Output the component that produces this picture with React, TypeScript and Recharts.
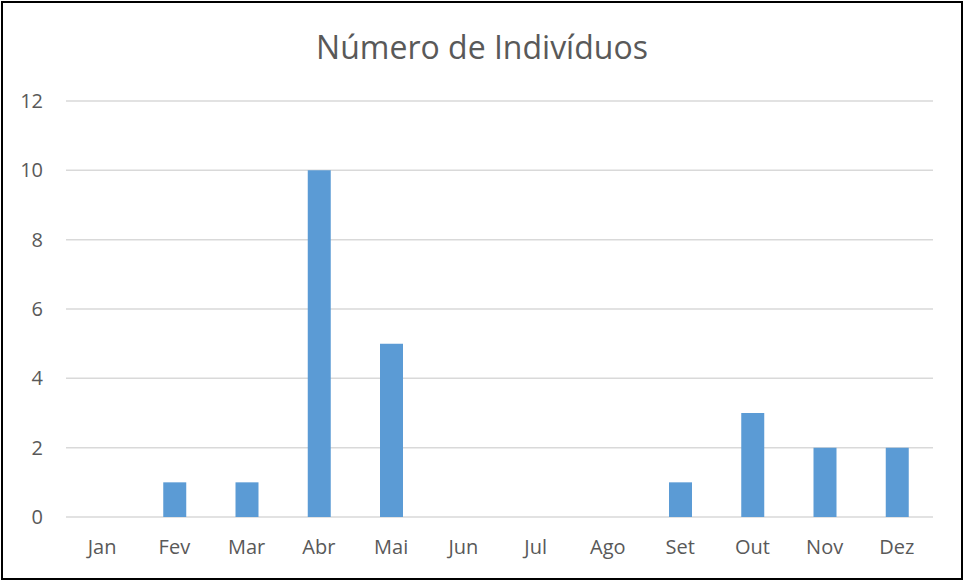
import React from 'react';
import { BarChart, Bar, XAxis, YAxis, CartesianGrid } from 'recharts';

const MONTHS = ['Jan', 'Fev', 'Mar', 'Abr', 'Mai', 'Jun', 'Jul', 'Ago', 'Set', 'Out', 'Nov', 'Dez'];
const INDIVIDUOS = [0, 1, 1, 10, 5, 0, 0, 0, 1, 3, 2, 2];
const Y_TICKS = [0, 2, 4, 6, 8, 10, 12];

const TEXT_COLOR = '#595959';
const BAR_COLOR = '#5B9BD5';
const GRID_COLOR = '#D9D9D9';
const FONT = '"Open Sans", sans-serif';

const data = MONTHS.map((m, i) => ({ mes: m, valor: INDIVIDUOS[i] }));

export default function App() {
  return (
    <div style={{ position: 'absolute', left: 0, top: 0, width: 964, height: 583, background: '#fff' }}>
      <div
        style={{
          position: 'absolute',
          left: 1,
          top: 1,
          width: 962,
          height: 579,
          border: '2px solid #000',
          boxSizing: 'border-box',
        }}
      />
      <div
        style={{
          position: 'absolute',
          left: 0,
          width: 964,
          top: 25,
          textAlign: 'center',
          fontFamily: FONT,
          fontSize: 32,
          color: TEXT_COLOR,
          whiteSpace: 'nowrap',
        }}
      >
        Número de Indivíduos
      </div>
      <div style={{ position: 'absolute', left: 0, top: 0 }}>
        <BarChart
          width={964}
          height={583}
          data={data}
          margin={{ top: 101, right: 31, left: 0, bottom: 36 }}
        >
          <CartesianGrid vertical={false} stroke={GRID_COLOR} strokeWidth={1.5} />
          <XAxis
            dataKey="mes"
            height={30}
            axisLine={false}
            tickLine={false}
            tickSize={0}
            tickMargin={23}
            interval={0}
            tick={{ fill: TEXT_COLOR, fontSize: 20, fontFamily: FONT }}
          />
          <YAxis
            width={66}
            domain={[0, 12]}
            ticks={Y_TICKS}
            axisLine={false}
            tickLine={false}
            tickSize={0}
            tickMargin={23}
            tick={{ fill: TEXT_COLOR, fontSize: 20, fontFamily: FONT }}
          />
          <Bar dataKey="valor" fill={BAR_COLOR} barSize={23} isAnimationActive={false} />
        </BarChart>
      </div>
    </div>
  );
}
